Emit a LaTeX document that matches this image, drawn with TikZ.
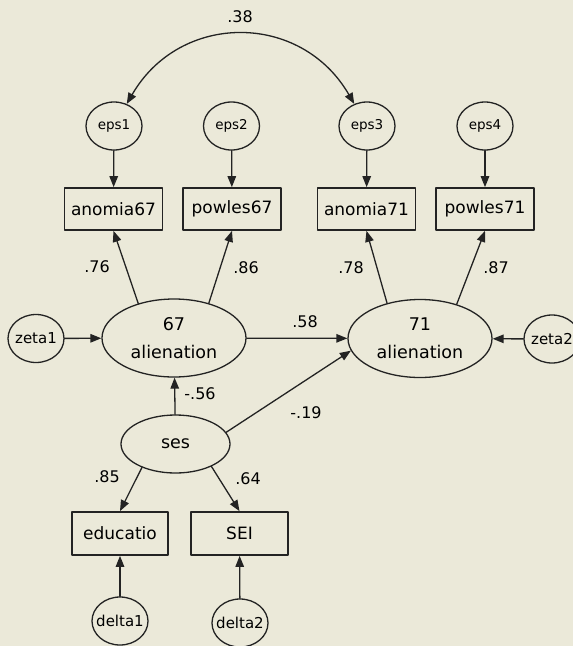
\documentclass[tikz,border=0pt]{standalone}
\usepackage{fontspec}
\setmainfont{DejaVu Sans}
\usetikzlibrary{arrows.meta,shapes.geometric}

\definecolor{amosbg}{RGB}{235,233,217}
\definecolor{amosline}{RGB}{35,35,35}

\begin{document}
\begin{tikzpicture}[
    x=1pt,
    y=1pt,
    line cap=round,
    line join=round,
    >={Triangle[length=11pt,width=8.5pt]},
    latent/.style={
        draw=amosline,
        ellipse,
        line width=1.3pt,
        inner sep=0pt,
        align=center,
        minimum width=144pt,
        minimum height=78pt,
        font=\fontsize{17.5}{28}\selectfont
    },
    errvar/.style={
        draw=amosline,
        ellipse,
        line width=1.3pt,
        inner sep=-16pt,
        minimum width=56pt,
        minimum height=48pt,
        font=\fontsize{13.5}{16}\selectfont
    },
    disturb/.style={errvar,font=\fontsize{15}{16}\selectfont},
    observed/.style={
        draw=amosline,
        rectangle,
        line width=1.7pt,
        inner sep=0pt,
        minimum width=98pt,
        minimum height=42pt,
        font=\fontsize{17}{20}\selectfont
    },
    regr/.style={->,line width=1.3pt,amosline},
    covar/.style={<->,line width=1.3pt,amosline},
    coef/.style={inner sep=0pt,font=\fontsize{16}{18}\selectfont}
]

\useasboundingbox (0,0) rectangle (573,-646);
\fill[amosbg] (0,0) rectangle (573,-646);

% error terms and indicators
\node[errvar] (eps1) at (114,-126) {eps1};
\node[errvar] (eps2) at (231.5,-126) {eps2};
\node[errvar] (eps3) at (367,-126) {eps3};
\node[errvar] (eps4) at (485,-126) {eps4};

\node[observed] (anomia67) at (113.5,-209) {anomia67};
\node[observed] (powles67) at (232,-209) {powles67};
\node[observed] (anomia71) at (366.5,-209) {anomia71};
\node[observed] (powles71) at (485,-209) {powles71};

% latent variables
\node[latent] (alien67) at (174,-338) {67\\alienation};
\node[latent] (alien71) at (420,-338.5) {71\\alienation};
\node[latent,minimum width=109pt,minimum height=58pt] (ses) at (175.5,-444) {ses};

\node[disturb] (zeta1) at (36,-338.5) {zeta1};
\node[disturb] (zeta2) at (552,-339) {zeta2};

\node[observed,minimum width=96pt,minimum height=43pt] (educatio) at (120,-533.5) {educatio};
\node[observed,minimum width=97pt,minimum height=43pt] (sei) at (239.5,-533.5) {SEI};

\node[disturb] (delta1) at (120,-621) {delta1};
\node[disturb] (delta2) at (240,-623) {delta2};

% paths
\draw[covar] (eps1.60) to[out=60,in=120,looseness=1.2] (eps3.120);
\draw[regr] (eps1) -- (anomia67);
\draw[regr] (eps2) -- (powles67);
\draw[regr] (eps3) -- (anomia71);
\draw[regr] (eps4) -- (powles71);

\draw[regr] (alien67.136) -- (anomia67.south);
\draw[regr] (alien67.45) -- (powles67.south);
\draw[regr] (alien71.133) -- (anomia71.south);
\draw[regr] (alien71.43) -- (powles71.south);

\draw[regr] (zeta1) -- (alien67);
\draw[regr] (zeta2) -- (alien71);
\draw[regr] (alien67) -- (alien71);
\draw[regr] (ses) -- (alien67);
\draw[regr] (ses.13) -- (alien71.190);
\draw[regr] (ses.215) -- (educatio.north);
\draw[regr] (ses.-32) -- (sei.north);
\draw[regr] (delta1) -- (educatio);
\draw[regr] (delta2) -- (sei);

% estimates
\node[coef] (c38) at (240,-17) {.38};
\node[coef] (c76) at (97,-267) {.76};
\node[coef] (c86) at (246,-268) {.86};
\node[coef] (c78) at (351,-268) {.78};
\node[coef] (c87) at (496,-268) {.87};
\node[coef] (c58) at (305,-322) {.58};
\node[coef] (c56) at (200,-394) {-.56};
\node[coef] (c19) at (306,-413) {-.19};
\node[coef] (c85) at (107,-477) {.85};
\node[coef] (c64) at (248,-479) {.64};

\end{tikzpicture}
\end{document}
